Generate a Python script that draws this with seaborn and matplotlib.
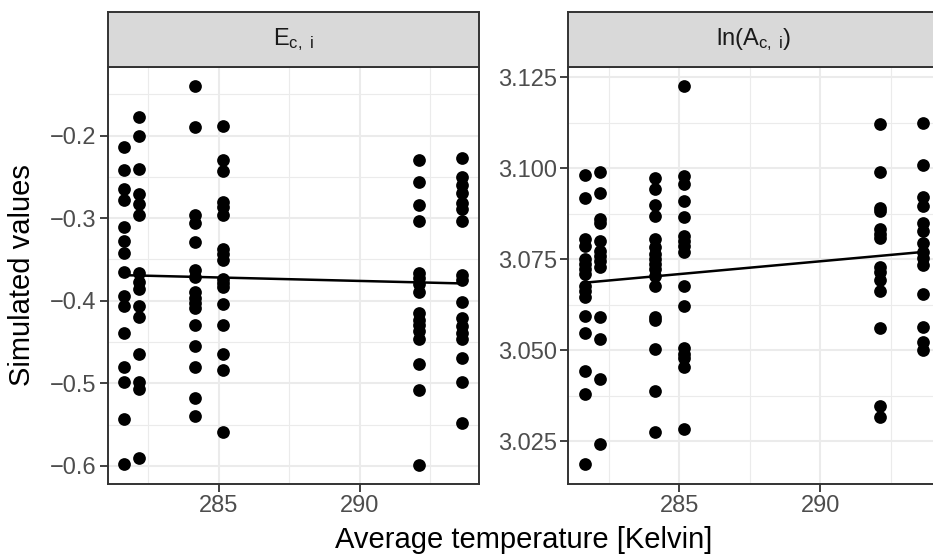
import numpy as np
import pandas as pd
import matplotlib
matplotlib.use("Agg")
import matplotlib.pyplot as plt
import seaborn as sns
from matplotlib.ticker import FixedLocator

sns.set_theme(style="white")
plt.rcParams['font.family'] = ['Liberation Sans', 'DejaVu Sans']
plt.rcParams['mathtext.fontset'] = 'custom'
plt.rcParams['mathtext.rm'] = 'Liberation Sans'
plt.rcParams['mathtext.it'] = 'Liberation Sans:italic'

# ---- data ----
temps = [281.65, 282.17, 284.15, 285.15, 292.12, 293.64]

E_281_65 = [-0.214, -0.242, -0.265, -0.278, -0.311, -0.328, -0.342, -0.365, -0.394,
            -0.406, -0.439, -0.480, -0.498, -0.543, -0.598]
E_282_17 = [-0.178, -0.200, -0.240, -0.271, -0.283, -0.296, -0.366, -0.377, -0.386,
            -0.407, -0.420, -0.464, -0.499, -0.507, -0.590]
E_284_15 = [-0.140, -0.190, -0.296, -0.306, -0.329, -0.363, -0.371, -0.390, -0.397,
            -0.403, -0.409, -0.429, -0.455, -0.480, -0.518, -0.540]
E_285_15 = [-0.189, -0.230, -0.243, -0.280, -0.286, -0.296, -0.338, -0.344, -0.351,
            -0.374, -0.379, -0.383, -0.404, -0.430, -0.464, -0.484, -0.559]
E_292_12 = [-0.230, -0.256, -0.284, -0.303, -0.366, -0.373, -0.380, -0.389, -0.415,
            -0.423, -0.430, -0.437, -0.446, -0.477, -0.508, -0.599]
E_293_64 = [-0.227, -0.250, -0.260, -0.269, -0.282, -0.289, -0.303, -0.369, -0.375,
            -0.401, -0.421, -0.431, -0.439, -0.447, -0.470, -0.499, -0.548]

A_281_65 = [3.0981, 3.0919, 3.0806, 3.0787, 3.0751, 3.0737, 3.0724, 3.0710, 3.0678,
            3.0663, 3.0646, 3.0593, 3.0548, 3.0444, 3.0380, 3.0188]
A_282_17 = [3.0990, 3.0933, 3.0860, 3.0851, 3.0801, 3.0774, 3.0760, 3.0746, 3.0728,
            3.0592, 3.0532, 3.0421, 3.0244]
A_284_15 = [3.0972, 3.0942, 3.0899, 3.0869, 3.0806, 3.0783, 3.0765, 3.0751, 3.0737,
            3.0724, 3.0705, 3.0678, 3.0592, 3.0583, 3.0505, 3.0387, 3.0277]
A_285_15 = [3.1226, 3.0979, 3.0956, 3.0910, 3.0865, 3.0815, 3.0801, 3.0787, 3.0769,
            3.0676, 3.0623, 3.0507, 3.0491, 3.0478, 3.0455, 3.0285]
A_292_12 = [3.1122, 3.0990, 3.0892, 3.0883, 3.0833, 3.0819, 3.0808, 3.0728, 3.0714,
            3.0692, 3.0664, 3.0560, 3.0347, 3.0318]
A_293_64 = [3.1124, 3.1010, 3.0921, 3.0897, 3.0851, 3.0828, 3.0794, 3.0769, 3.0753,
            3.0733, 3.0655, 3.0564, 3.0523, 3.0500]

E_groups = [E_281_65, E_282_17, E_284_15, E_285_15, E_292_12, E_293_64]
A_groups = [A_281_65, A_282_17, A_284_15, A_285_15, A_292_12, A_293_64]

facet_labels = [r"$\mathrm{E}_{\mathrm{c,\ i}}$", r"$\mathrm{ln(A}_{\mathrm{c,\ i}}\mathrm{)}$"]
x_label = "Average temperature [Kelvin]"
y_label = "Simulated values"

x_major = [285, 290]
x_minor = [282.5, 287.5, 292.5]
E_major = [-0.6, -0.5, -0.4, -0.3, -0.2]
E_minor = [-0.55, -0.45, -0.35, -0.25, -0.15]
A_major = [3.025, 3.050, 3.075, 3.100, 3.125]
A_minor = [3.0375, 3.0625, 3.0875, 3.1125]


def long_df(groups):
    rows = []
    for t, vals in zip(temps, groups):
        for v in vals:
            rows.append((t, v))
    return pd.DataFrame(rows, columns=["temp", "value"])


dfE = long_df(E_groups)
dfA = long_df(A_groups)

W, H = 933, 558
fig = plt.figure(figsize=(W / 100, H / 100), dpi=100)

BORDER = "#333333"
GRID = "#EBEBEB"
TICK_FS = 17
STRIP_FS = 17
TITLE_FS = 21


def px(x0, y0, x1, y1):
    return [x0 / W, 1 - y1 / H, (x1 - x0) / W, (y1 - y0) / H]


def draw_panel(df, rect, srect, label, ymaj, ymin, ylim):
    ax = fig.add_axes(px(*rect))
    ax.set_axisbelow(True)
    sns.regplot(data=df, x="temp", y="value", scatter=False, ci=None, truncate=True,
                color="black", line_kws=dict(lw=1.8, zorder=3), ax=ax)
    sns.scatterplot(data=df, x="temp", y="value", color="black", s=84,
                    linewidth=0, ax=ax, zorder=4, legend=False)
    ax.set_xlim(281.05, 294.24)
    ax.set_ylim(*ylim)
    ax.xaxis.set_major_locator(FixedLocator(x_major))
    ax.xaxis.set_minor_locator(FixedLocator(x_minor))
    ax.yaxis.set_major_locator(FixedLocator(ymaj))
    ax.yaxis.set_minor_locator(FixedLocator(ymin))
    ax.set_xticklabels([str(v) for v in x_major])
    ax.set_yticklabels([f"{v:.1f}".replace("-", "\u2212") if ylim[0] < 0 else f"{v:.3f}" for v in ymaj])
    ax.grid(which="major", color=GRID, lw=1.5)
    ax.grid(which="minor", color=GRID, lw=0.8)
    ax.tick_params(which="major", length=5.5, width=1.3, color=BORDER,
                   labelsize=TICK_FS, labelcolor="#4D4D4D", pad=2.5,
                   bottom=True, left=True)
    ax.tick_params(which="minor", length=0)
    for s in ax.spines.values():
        s.set_color(BORDER)
        s.set_linewidth(1.4)
        s.set_visible(True)
    ax.set_xlabel("")
    ax.set_ylabel("")
    ax.set_facecolor("white")

    sax = fig.add_axes(px(*srect))
    sax.set_facecolor("#D9D9D9")
    sax.set_xticks([])
    sax.set_yticks([])
    for s in sax.spines.values():
        s.set_color(BORDER)
        s.set_linewidth(1.4)
    sax.text(0.5, 0.5, label, ha="center", va="center", fontsize=STRIP_FS,
             color="#1A1A1A", transform=sax.transAxes)
    return ax


draw_panel(dfE, (107.5, 67, 479, 484), (107.5, 12, 479, 67), facet_labels[0],
           E_major, E_minor, (-0.622, -0.117))
draw_panel(dfA, (568, 67, 940, 484), (568, 12, 940, 67), facet_labels[1],
           A_major, A_minor, (3.0133, 3.1278))

fig.text(523.5 / W, 1 - 540 / H, x_label, ha="center", va="center", fontsize=TITLE_FS, color="black")
fig.text(22 / W, 1 - 275.5 / H, y_label, ha="center", va="center", fontsize=TITLE_FS,
         rotation=90, color="black")

fig.savefig("out.png", dpi=100)
